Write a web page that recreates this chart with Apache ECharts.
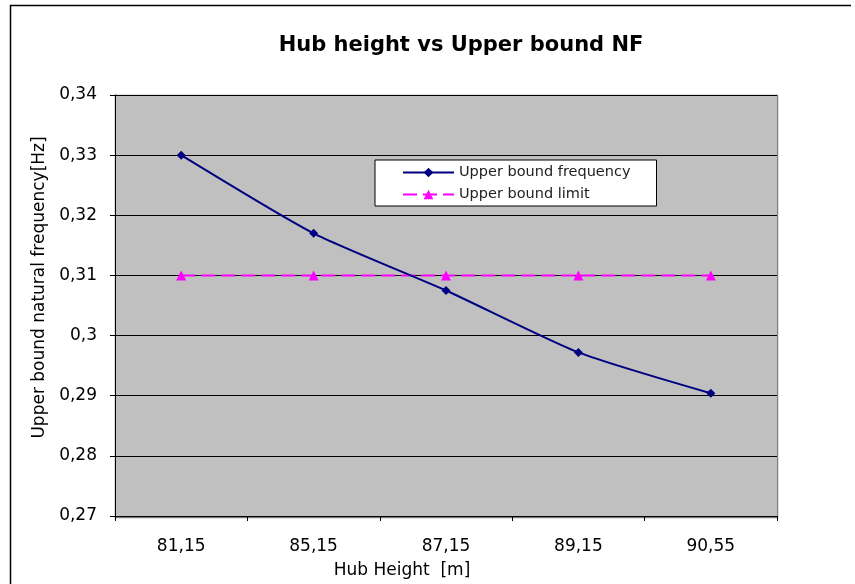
<!DOCTYPE html>
<html>
<head>
<meta charset="utf-8">
<script src="https://cdn.jsdelivr.net/npm/echarts@6/dist/echarts.min.js"></script>
<style>html,body{margin:0;padding:0;background:#fff;}#c{width:855px;height:584px;}</style>
</head>
<body>
<div id="c"></div>
<script>
var categories = ['81,15', '85,15', '87,15', '89,15', '90,55'];
var upperBoundFrequency = [0.330, 0.317, 0.3075, 0.2972, 0.2904];
var upperBoundLimit = [0.31, 0.31, 0.31, 0.31, 0.31];
var yMin = 0.27, yMax = 0.34, yStep = 0.01;

var chart = echarts.init(document.getElementById('c'), null, {renderer: 'canvas'});
var font = 'DejaVu Sans';
chart.setOption({
  animation: false,
  backgroundColor: '#ffffff',
  title: {
    text: 'Hub height vs Upper bound NF',
    left: 456, top: 30, textAlign: 'center',
    textStyle: {fontFamily: font, fontWeight: 'bold', fontSize: 21, color: '#000'}
  },
  graphic: [
    {type: 'polyline', shape: {points: [[10.5, 584], [10.5, 5.5], [851, 5.5]]}, style: {stroke: '#000', lineWidth: 1.5, fill: null}, silent: true},
    {type: 'rect', shape: {x: 115.5, y: 95.5, width: 662, height: 422}, style: {stroke: '#808080', lineWidth: 1.5, fill: null}, silent: true, z: -1}
  ],
  legend: {
    orient: 'vertical',
    left: 375, top: 160,
    backgroundColor: '#ffffff',
    borderColor: '#000', borderWidth: 1,
    padding: [5, 26, 4, 27],
    itemGap: 7,
    itemWidth: 51, itemHeight: 12,
    textStyle: {fontFamily: font, fontSize: 14.5, color: '#222'},
    data: ['Upper bound frequency', 'Upper bound limit']
  },
  grid: {left: 115, right: 78, top: 95, bottom: 67, backgroundColor: '#c0c0c0', show: true, borderWidth: 0},
  xAxis: {
    type: 'category',
    data: categories,
    boundaryGap: true,
    name: 'Hub Height  [m]',
    nameLocation: 'middle',
    nameGap: 46,
    nameTextStyle: {fontFamily: font, fontSize: 17, color: '#000', padding: [0, 88, 0, 0]},
    axisLine: {lineStyle: {color: '#000', width: 1}},
    axisTick: {show: true, inside: false, length: 5, alignWithLabel: false, lineStyle: {color: '#000'}},
    axisLabel: {fontFamily: font, fontSize: 17, color: '#000', margin: 22},
    splitLine: {show: false}
  },
  yAxis: {
    type: 'value',
    min: yMin, max: yMax, interval: yStep,
    name: 'Upper bound natural frequency[Hz]',
    nameLocation: 'middle',
    nameGap: 60,
    nameTextStyle: {fontFamily: font, fontSize: 17, color: '#000', padding: [0, 0, 0, 36]},
    axisLine: {show: true, lineStyle: {color: '#000', width: 1}},
    axisTick: {show: true, length: 5, lineStyle: {color: '#000'}},
    axisLabel: {
      fontFamily: font, fontSize: 17, color: '#000', margin: 18,
      formatter: function (v) { return parseFloat(v.toFixed(2)).toString().replace('.', ','); }
    },
    splitLine: {show: true, lineStyle: {color: '#000', width: 1}}
  },
  series: [
    {
      name: 'Upper bound frequency',
      type: 'line',
      data: upperBoundFrequency,
      smooth: 0.2,
      symbol: 'diamond', symbolSize: 9,
      lineStyle: {color: '#000080', width: 2},
      itemStyle: {color: '#000080'},
      z: 3
    },
    {
      name: 'Upper bound limit',
      type: 'line',
      data: upperBoundLimit,
      symbol: 'triangle', symbolSize: 10,
      lineStyle: {color: '#ff00ff', width: 2, type: [14, 6]},
      itemStyle: {color: '#ff00ff'},
      z: 2
    }
  ]
});
</script>
</body>
</html>
